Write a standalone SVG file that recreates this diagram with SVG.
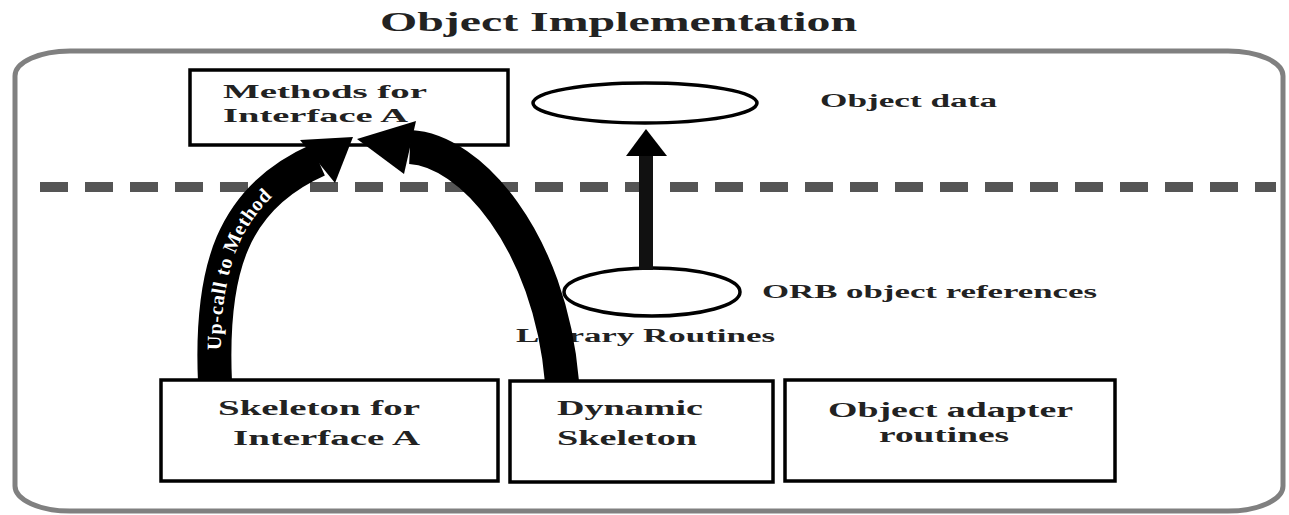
<svg xmlns="http://www.w3.org/2000/svg" xmlns:xlink="http://www.w3.org/1999/xlink" width="1289" height="515" viewBox="0 0 1289 515">
<style>
.box{fill:#fff;stroke:#000;stroke-width:3.5}
.ell{fill:#fff;stroke:#000;stroke-width:3.5}
.t{font-family:"Liberation Serif","Times New Roman",serif;font-weight:bold;fill:#222}
.band{fill:none;stroke:#000;stroke-width:34;stroke-linecap:butt}
.head{fill:#000}
</style>
<rect width="1289" height="515" fill="#fff"/>
<g id="title">
<text class="t" x="380" y="31" font-size="27" textLength="477" lengthAdjust="spacingAndGlyphs">Object Implementation</text>
</g>
<g id="container">
<rect x="15" y="51" width="1268" height="460" rx="55" ry="25" fill="none" stroke="#808080" stroke-width="5"/>
</g>
<g id="separator">
<line x1="40" y1="187" x2="1276" y2="187" stroke="#555" stroke-width="10" stroke-dasharray="28 17"/>
</g>
<g id="methods">
<rect class="box" x="190" y="70" width="318" height="75"/>
<text class="t" x="223" y="98" font-size="19" textLength="204" lengthAdjust="spacingAndGlyphs">Methods for</text>
<text class="t" x="223" y="122" font-size="19" textLength="185" lengthAdjust="spacingAndGlyphs">Interface A</text>
</g>
<g id="object-data">
<ellipse class="ell" cx="645" cy="103" rx="112" ry="20"/>
<text class="t" x="820" y="107" font-size="18" textLength="177" lengthAdjust="spacingAndGlyphs">Object data</text>
</g>
<g id="orb-refs">
<ellipse class="ell" cx="652" cy="292" rx="88" ry="24" stroke-width="4.5"/>
<text class="t" x="762" y="298" font-size="18" textLength="335" lengthAdjust="spacingAndGlyphs">ORB object references</text>
</g>
<g id="library">
<text class="t" x="516" y="342" font-size="18" textLength="259" lengthAdjust="spacingAndGlyphs">Library Routines</text>
</g>
<g id="connectors">
<path id="leftArc" class="band" d="M215 382 C210 270 232 198 318 160"/>
<polygon class="head" points="353,137 300,140 335,183"/>
<path class="band" d="M562 382 C550 240 470 150 410 147"/>
<polygon class="head" points="357,139 416,121 404,174"/>
<rect x="639" y="153" width="14" height="117" fill="#111"/>
<polygon class="head" points="646,129 626,156 667,156"/>
<text font-family="'Liberation Serif','Times New Roman',serif" font-weight="bold" font-size="20" fill="#fff" letter-spacing="1" dy="6.5"><textPath xlink:href="#leftArc" href="#leftArc" startOffset="32">Up-call to Method</textPath></text>
</g>
<g id="skeleton">
<rect class="box" x="161" y="380" width="337" height="101"/>
<text class="t" x="218" y="415" font-size="20" textLength="202" lengthAdjust="spacingAndGlyphs">Skeleton for</text>
<text class="t" x="233" y="445" font-size="20" textLength="187" lengthAdjust="spacingAndGlyphs">Interface A</text>
</g>
<g id="dynamic">
<rect class="box" x="510" y="381" width="263" height="101"/>
<text class="t" x="557" y="415" font-size="20" textLength="146" lengthAdjust="spacingAndGlyphs">Dynamic</text>
<text class="t" x="557" y="445" font-size="20" textLength="140" lengthAdjust="spacingAndGlyphs">Skeleton</text>
</g>
<g id="adapter">
<rect class="box" x="785" y="380" width="330" height="101"/>
<text class="t" x="828" y="417" font-size="20" textLength="245" lengthAdjust="spacingAndGlyphs">Object adapter</text>
<text class="t" x="879" y="442" font-size="20" textLength="130" lengthAdjust="spacingAndGlyphs">routines</text>
</g>
</svg>
